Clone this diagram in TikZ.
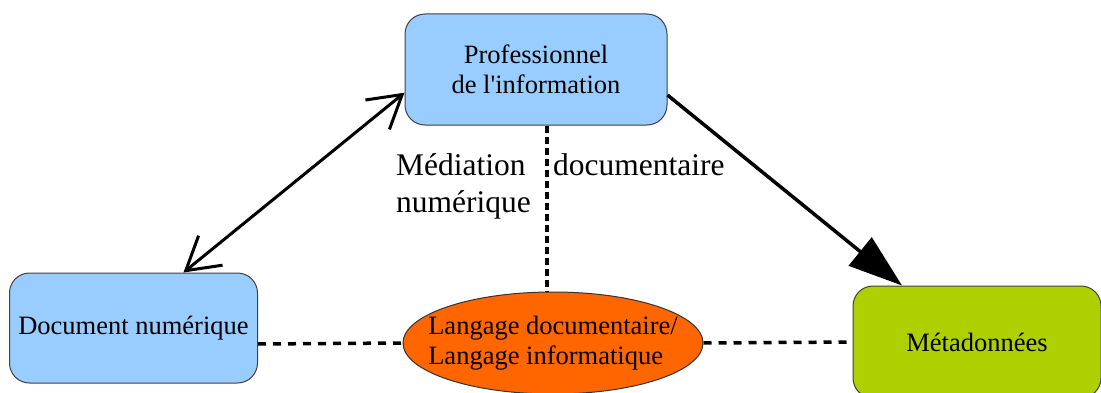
\documentclass[tikz,border=0pt]{standalone}
\usepackage{fontspec}
\setmainfont{Liberation Serif}
\usetikzlibrary{arrows.meta,shapes.geometric}
\definecolor{boxblue}{HTML}{99CCFF}
\definecolor{langorange}{HTML}{FF6600}
\definecolor{metagreen}{HTML}{AECF00}
\tikzset{
  roundbox/.style={draw=black!75,line width=1pt,rounded corners=20pt,
    minimum width=248pt,minimum height=111pt,inner sep=0pt,align=center,
    font=\fontsize{26.5}{30}\selectfont},
  langshape/.style={ellipse,draw=black!80,line width=1pt,fill=langorange,
    minimum width=300pt,minimum height=102pt,inner xsep=-20pt,inner ysep=0pt,align=left,
    font=\fontsize{26.5}{30}\selectfont},
  sidelabel/.style={inner sep=0pt,align=left,font=\fontsize{31.5}{37}\selectfont},
  dotline/.style={line width=3.2pt,dash pattern=on 7pt off 4pt},
  dashline/.style={line width=3.5pt,dash pattern=on 8pt off 7pt}
}
\begin{document}
\begin{tikzpicture}[x=1pt,y=1pt]
\useasboundingbox (0,0) rectangle (1101,392);
% boxes
\node[roundbox,fill=boxblue,minimum width=262pt] (prof) at (536,322.5) {Professionnel\\de l\textquotesingle information};
\node[roundbox,fill=boxblue,minimum height=110pt] (doc) at (133.5,64) {Document numérique};
\node[roundbox,fill=metagreen,minimum height=112pt] (meta) at (977,50) {Métadonnées};
\node[langshape] (lang) at (553,49) {Langage documentaire/\\Langage informatique};
% labels
\node[sidelabel,anchor=base west] (mediation) at (396,180) {Médiation\\numérique};
\node[sidelabel,anchor=base west] (docu) at (553,217) {documentaire};
% links
\draw[line width=3pt,{Straight Barb[length=32pt,width=38pt]}-{Straight Barb[length=32pt,width=38pt]}] (doc.48) -- (prof.190);
\draw[line width=3.5pt,-{Triangle[length=54pt,width=36pt]}] (prof.-11) -- (meta.143);
\draw[dotline] ([xshift=11pt]prof.south) -- ([xshift=-6pt]lang.north);
\draw[dashline] ([yshift=-16pt]doc.east) -- (lang.west);
\draw[dashline] (lang.east) -- (meta.west);
\end{tikzpicture}
\end{document}
